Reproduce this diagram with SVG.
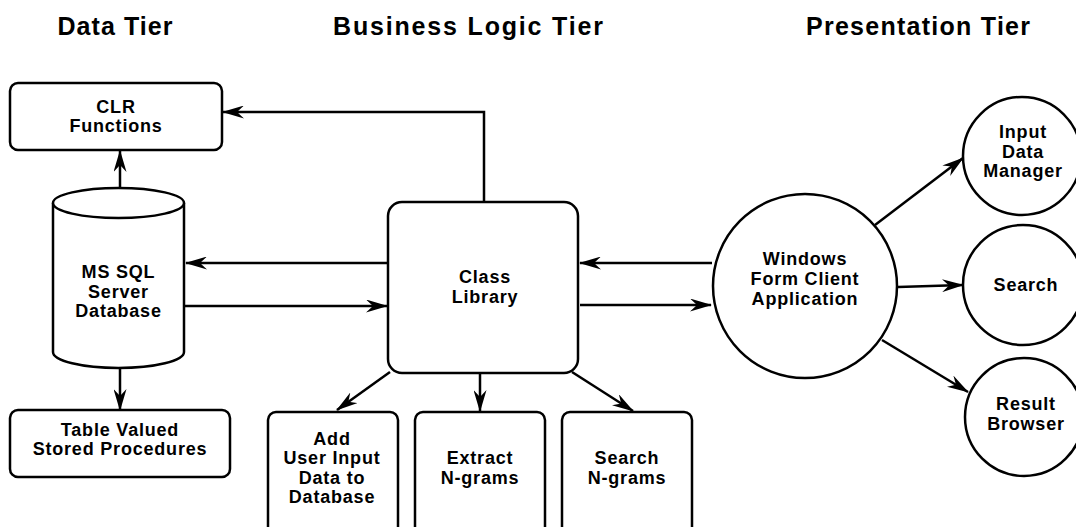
<svg xmlns="http://www.w3.org/2000/svg" width="1076" height="527" viewBox="0 0 1076 527">
<style>
.shape{fill:#fff;stroke:#000;stroke-width:2.5}
.t{font-family:"Liberation Sans",Arial,sans-serif;font-weight:bold;font-size:18px;letter-spacing:0.8px;text-anchor:middle;fill:#000}
.title{font-family:"Liberation Sans",Arial,sans-serif;font-weight:bold;font-size:25px;text-anchor:middle;fill:#000}
.c{fill:none;stroke:#000;stroke-width:2.5}
</style>
<defs>
<marker id="ah" viewBox="0 0 22 13" refX="21" refY="6.5" markerWidth="22" markerHeight="13" markerUnits="userSpaceOnUse" orient="auto">
<path d="M0,0 L22,6.5 L0,13 L7,6.5 z" fill="#000"/>
</marker>
</defs>
<rect width="1076" height="527" fill="#fff"/>
<text class="title" x="115" y="35" textLength="115" lengthAdjust="spacing">Data Tier</text>
<text class="title" x="468" y="35" textLength="270" lengthAdjust="spacing">Business Logic Tier</text>
<text class="title" x="918" y="35" textLength="224" lengthAdjust="spacing">Presentation Tier</text>

<g id="connectors">
<path class="c" d="M120,188 L120,151" marker-end="url(#ah)"/>
<path class="c" d="M484,202 L484,112 L223,112" marker-end="url(#ah)"/>
<path class="c" d="M387,263 L186,263" marker-end="url(#ah)"/>
<path class="c" d="M185,306 L387,306" marker-end="url(#ah)"/>
<path class="c" d="M120,368 L120,410" marker-end="url(#ah)"/>
<path class="c" d="M712,263 L580,263" marker-end="url(#ah)"/>
<path class="c" d="M580,305 L711,305" marker-end="url(#ah)"/>
<path class="c" d="M390,372 L337,410" marker-end="url(#ah)"/>
<path class="c" d="M480,373 L480,411" marker-end="url(#ah)"/>
<path class="c" d="M572,372 L633,411" marker-end="url(#ah)"/>
<path class="c" d="M875,225 L963,158" marker-end="url(#ah)"/>
<path class="c" d="M898,287 L963,285" marker-end="url(#ah)"/>
<path class="c" d="M882,340 L968,392" marker-end="url(#ah)"/>
</g>

<g id="clr">
<rect class="shape" x="10" y="83" width="212" height="67" rx="8"/>
<text class="t" x="116" y="113">CLR</text>
<text class="t" x="116" y="132">Functions</text>
</g>

<g id="db">
<path class="shape" d="M53,203 L53,352 A65.5,16 0 0 0 184,352 L184,203"/>
<ellipse cx="118.5" cy="203" rx="65.5" ry="15" class="shape"/>
<text class="t" x="118.5" y="278">MS SQL</text>
<text class="t" x="118.5" y="298">Server</text>
<text class="t" x="118.5" y="317">Database</text>
</g>

<g id="tvsp">
<rect class="shape" x="10" y="410" width="220" height="67" rx="8"/>
<text class="t" x="120" y="436">Table Valued</text>
<text class="t" x="120" y="455">Stored Procedures</text>
</g>

<g id="classlib">
<rect class="shape" x="388" y="202" width="190" height="171" rx="14"/>
<text class="t" x="485" y="283">Class</text>
<text class="t" x="485" y="303">Library</text>
</g>

<g id="adduser">
<rect class="shape" x="268" y="412" width="130" height="130" rx="8"/>
<text class="t" x="332" y="445">Add</text>
<text class="t" x="332" y="464">User Input</text>
<text class="t" x="332" y="484">Data to</text>
<text class="t" x="332" y="503">Database</text>
</g>

<g id="extract">
<rect class="shape" x="415" y="412" width="130" height="130" rx="8"/>
<text class="t" x="480" y="464">Extract</text>
<text class="t" x="480" y="484">N-grams</text>
</g>

<g id="searchng">
<rect class="shape" x="562" y="412" width="130" height="130" rx="8"/>
<text class="t" x="627" y="464">Search</text>
<text class="t" x="627" y="484">N-grams</text>
</g>

<g id="winform">
<circle class="shape" cx="805" cy="286" r="92"/>
<text class="t" x="805" y="265">Windows</text>
<text class="t" x="805" y="285">Form Client</text>
<text class="t" x="805" y="305">Application</text>
</g>

<g id="inputdm">
<circle class="shape" cx="1022" cy="156" r="59"/>
<text class="t" x="1023" y="138">Input</text>
<text class="t" x="1023" y="158">Data</text>
<text class="t" x="1023" y="177">Manager</text>
</g>

<g id="search">
<circle class="shape" cx="1023" cy="285" r="60"/>
<text class="t" x="1026" y="291">Search</text>
</g>

<g id="result">
<circle class="shape" cx="1024" cy="417" r="59"/>
<text class="t" x="1026" y="410">Result</text>
<text class="t" x="1026" y="430">Browser</text>
</g>
</svg>
